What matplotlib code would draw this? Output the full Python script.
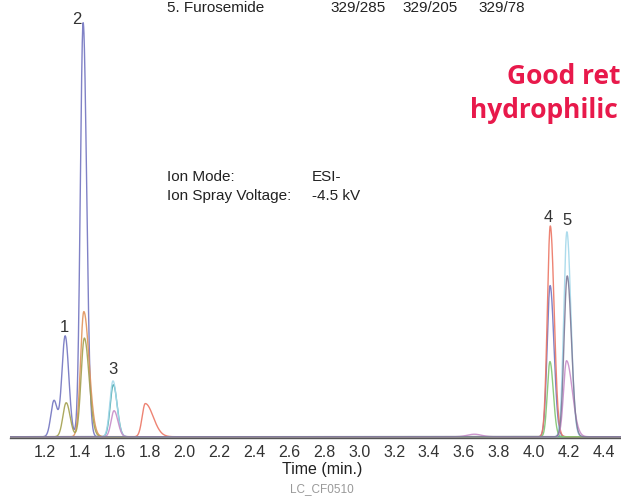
import numpy as np
import matplotlib
matplotlib.use("Agg")
import matplotlib.pyplot as plt

plt.rcParams['font.family'] = ['Liberation Sans', 'DejaVu Sans']

# peak tables per trace: retention time (min), relative intensity (%), left/right width (min)
trace_colors = ['#7274c0', '#e0925a', '#a3a04e', '#42a5a8', '#a4d8ea',
                '#ec7664', '#80c470', '#c78cc8', '#7d7a98']
rt = [
    [1.252, 1.316, 1.419, 4.094],      # blue-purple
    [1.423],                           # orange
    [1.322, 1.426],                    # olive
    [1.592],                           # teal
    [1.590, 4.190],                    # light cyan
    [1.775, 4.095],                    # salmon
    [4.093],                           # green
    [1.596, 4.188, 3.66],              # pink-purple
    [4.192],                           # grey-purple
]
intensity = [
    [8.6, 24.0, 98.6, 36.0],
    [29.8],
    [8.1, 23.5],
    [12.4],
    [13.3, 48.8],
    [7.9, 50.2],
    [17.9],
    [6.2, 18.1, 0.6],
    [38.3],
]
width_left = [
    [0.018, 0.019, 0.016, 0.017],
    [0.019],
    [0.019, 0.019],
    [0.018],
    [0.018, 0.018],
    [0.018, 0.017],
    [0.015],
    [0.017, 0.017, 0.04],
    [0.018],
]
width_right = [
    [0.019, 0.021, 0.02, 0.022],
    [0.03],
    [0.022, 0.027],
    [0.022],
    [0.022, 0.023],
    [0.045, 0.022],
    [0.019],
    [0.022, 0.033, 0.04],
    [0.024],
]

peak_labels = ['1', '2', '3', '4', '5']
label_rt = [1.310, 1.385, 1.590, 4.085, 4.190]
label_int = [24.3, 97.6, 14.3, 50.5, 49.6]

xticks = [1.2, 1.4, 1.6, 1.8, 2.0, 2.2, 2.4, 2.6, 2.8, 3.0, 3.2, 3.4, 3.6, 3.8, 4.0, 4.2, 4.4]

fig = plt.figure(figsize=(6.21, 4.98), dpi=100)
ax = fig.add_axes([10 / 621, 60 / 498, 611 / 621, 438 / 498])

t = np.linspace(1.0, 4.5, 4000)
for color, rts, hs, wl, wr in zip(trace_colors, rt, intensity, width_left, width_right):
    y = np.zeros_like(t)
    for r, h, a, b in zip(rts, hs, wl, wr):
        s = np.where(t < r, a, b)
        y += h * np.exp(-0.5 * ((t - r) / s) ** 2)
    ax.plot(t, y, color=color, lw=1.0, alpha=0.9)

for lab, x, yv in zip(peak_labels, label_rt, label_int):
    ax.text(x, yv, lab, ha='center', va='bottom', fontsize=12, color='#333333')

ax.set_xlim(1.0, 4.5)
ax.set_ylim(-0.3, 104.0)
for sp in ['top', 'right', 'left']:
    ax.spines[sp].set_visible(False)
ax.spines['bottom'].set_color('#555555')
ax.spines['bottom'].set_linewidth(1.0)
ax.set_yticks([])
ax.set_xticks(xticks)
ax.set_xticklabels([f'{v:.1f}' for v in xticks], fontsize=11.5, color='#333333')
ax.tick_params(axis='x', length=0, pad=5)
ax.set_xlabel('Time (min.)', fontsize=11.5, color='#222222', labelpad=1)
ax.xaxis.set_label_coords((322 - 10) / 611, -0.054)

# annotations
txt = dict(fontsize=11, va='center', color='#222222')
fig.text(167 / 621, 1 - 8 / 498, '5. Furosemide', **txt)
for x, s in zip([330, 402, 478], ['329/285', '329/205', '329/78']):
    fig.text(x / 621, 1 - 8 / 498, s, **txt)
fig.text(167 / 621, 1 - 177 / 498, 'Ion Mode:', **txt)
fig.text(312 / 621, 1 - 177 / 498, 'ESI-', **txt)
fig.text(167 / 621, 1 - 196 / 498, 'Ion Spray Voltage:', **txt)
fig.text(312 / 621, 1 - 196 / 498, '-4.5 kV', **txt)

fig.text(0.999, 1 - 76 / 498, 'Good ret', fontsize=19, fontweight='bold', color='#e8194b',
         ha='right', va='center', family=['Open Sans', 'DejaVu Sans'])
fig.text(0.995, 1 - 111 / 498, 'hydrophilic', fontsize=19, fontweight='bold', color='#e8194b',
         ha='right', va='center', family=['Open Sans', 'DejaVu Sans'])

fig.text(322 / 621, 1 - 489 / 498, 'LC_CF0510', fontsize=8.5, color='#999999', ha='center', va='center')

fig.savefig('out.png', dpi=100, facecolor='white')
